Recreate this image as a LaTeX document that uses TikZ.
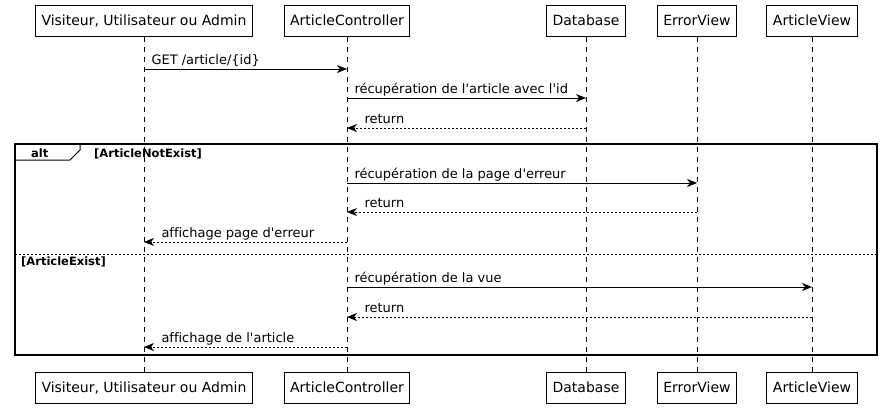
\documentclass[tikz,border=0pt]{standalone}
\usepackage{fontspec}
\setmainfont{DejaVu Sans}[Ligatures={TeXOff,NoCommon}]
\usetikzlibrary{arrows.meta}

\begin{document}
\begin{tikzpicture}[x=1pt, y=-1pt, font=\fontsize{13}{15}\selectfont,
  part/.style={draw, line width=1pt, fill=white, inner xsep=6pt, inner ysep=0pt,
    minimum height=31pt, font=\fontsize{14}{16}\selectfont},
  life/.style={line width=1pt, dash pattern=on 5pt off 5pt},
  call/.style={line width=1pt, -{Stealth[length=10pt, width=8pt, inset=3pt]}},
  reply/.style={call, dash pattern=on 2pt off 2pt},
  lbl/.style={anchor=base west, inner sep=0pt, xshift=7pt, yshift=5pt},
  lblback/.style={anchor=base west, inner sep=0pt, xshift=17pt, yshift=5pt},
  guard/.style={anchor=base west, inner sep=0pt, font=\fontsize{11.5}{13}\selectfont\bfseries}]

  \useasboundingbox (0,0) rectangle (883,407);

  % participants, top and bottom
  \node[part] (vis)   at (144,20.5) {Visiteur, Utilisateur ou Admin};
  \node[part] (ctl)   at (347,20.5) {ArticleController};
  \node[part] (db)    at (586,20.5) {Database};
  \node[part] (err)   at (697,20.5) {ErrorView};
  \node[part] (view)  at (812,20.5) {ArticleView};
  \node[part] (visB)  at (144,387.5) {Visiteur, Utilisateur ou Admin};
  \node[part] (ctlB)  at (347,387.5) {ArticleController};
  \node[part] (dbB)   at (586,387.5) {Database};
  \node[part] (errB)  at (697,387.5) {ErrorView};
  \node[part] (viewB) at (812,387.5) {ArticleView};

  % lifelines
  \foreach \p in {vis,ctl,db,err,view}
    \draw[life] (\p.south) -- (\p B.north);

  % alt frame
  \draw[line width=1.5pt] (15,144) rectangle (877,355);
  \draw[line width=1pt] (15,160) -- (70,160) -- (80,150) -- (80,144);
  \node[guard] (alt) at (31,157) {alt};
  \node[guard] (notexist) at (94,157) {[ArticleNotExist]};
  \draw[line width=0.8pt, dash pattern=on 2pt off 2pt] (15,254) -- (877,254);
  \node[guard] (exist) at (21,265) {[ArticleExist]};

  % messages
  \draw[call] (vis |- 0,69) -- (ctl |- 0,69)
    node[at start, lbl] {GET /article/\{id\}};
  \draw[call] (ctl |- 0,98) -- (db |- 0,98)
    node[at start, lbl] {récupération de l'article avec l'id};
  \draw[reply] (db |- 0,128) -- (ctl |- 0,128)
    node[at end, lblback] {return};

  \draw[call] (ctl |- 0,183) -- (err |- 0,183)
    node[at start, lbl] {récupération de la page d'erreur};
  \draw[reply] (err |- 0,212) -- (ctl |- 0,212)
    node[at end, lblback] {return};
  \draw[reply] (ctl |- 0,242) -- (vis |- 0,242)
    node[at end, lblback] {affichage page d'erreur};

  \draw[call] (ctl |- 0,287) -- (view |- 0,287)
    node[at start, lbl] {récupération de la vue};
  \draw[reply] (view |- 0,317) -- (ctl |- 0,317)
    node[at end, lblback] {return};
  \draw[reply] (ctl |- 0,347) -- (vis |- 0,347)
    node[at end, lblback] {affichage de l'article};

\end{tikzpicture}
\end{document}
